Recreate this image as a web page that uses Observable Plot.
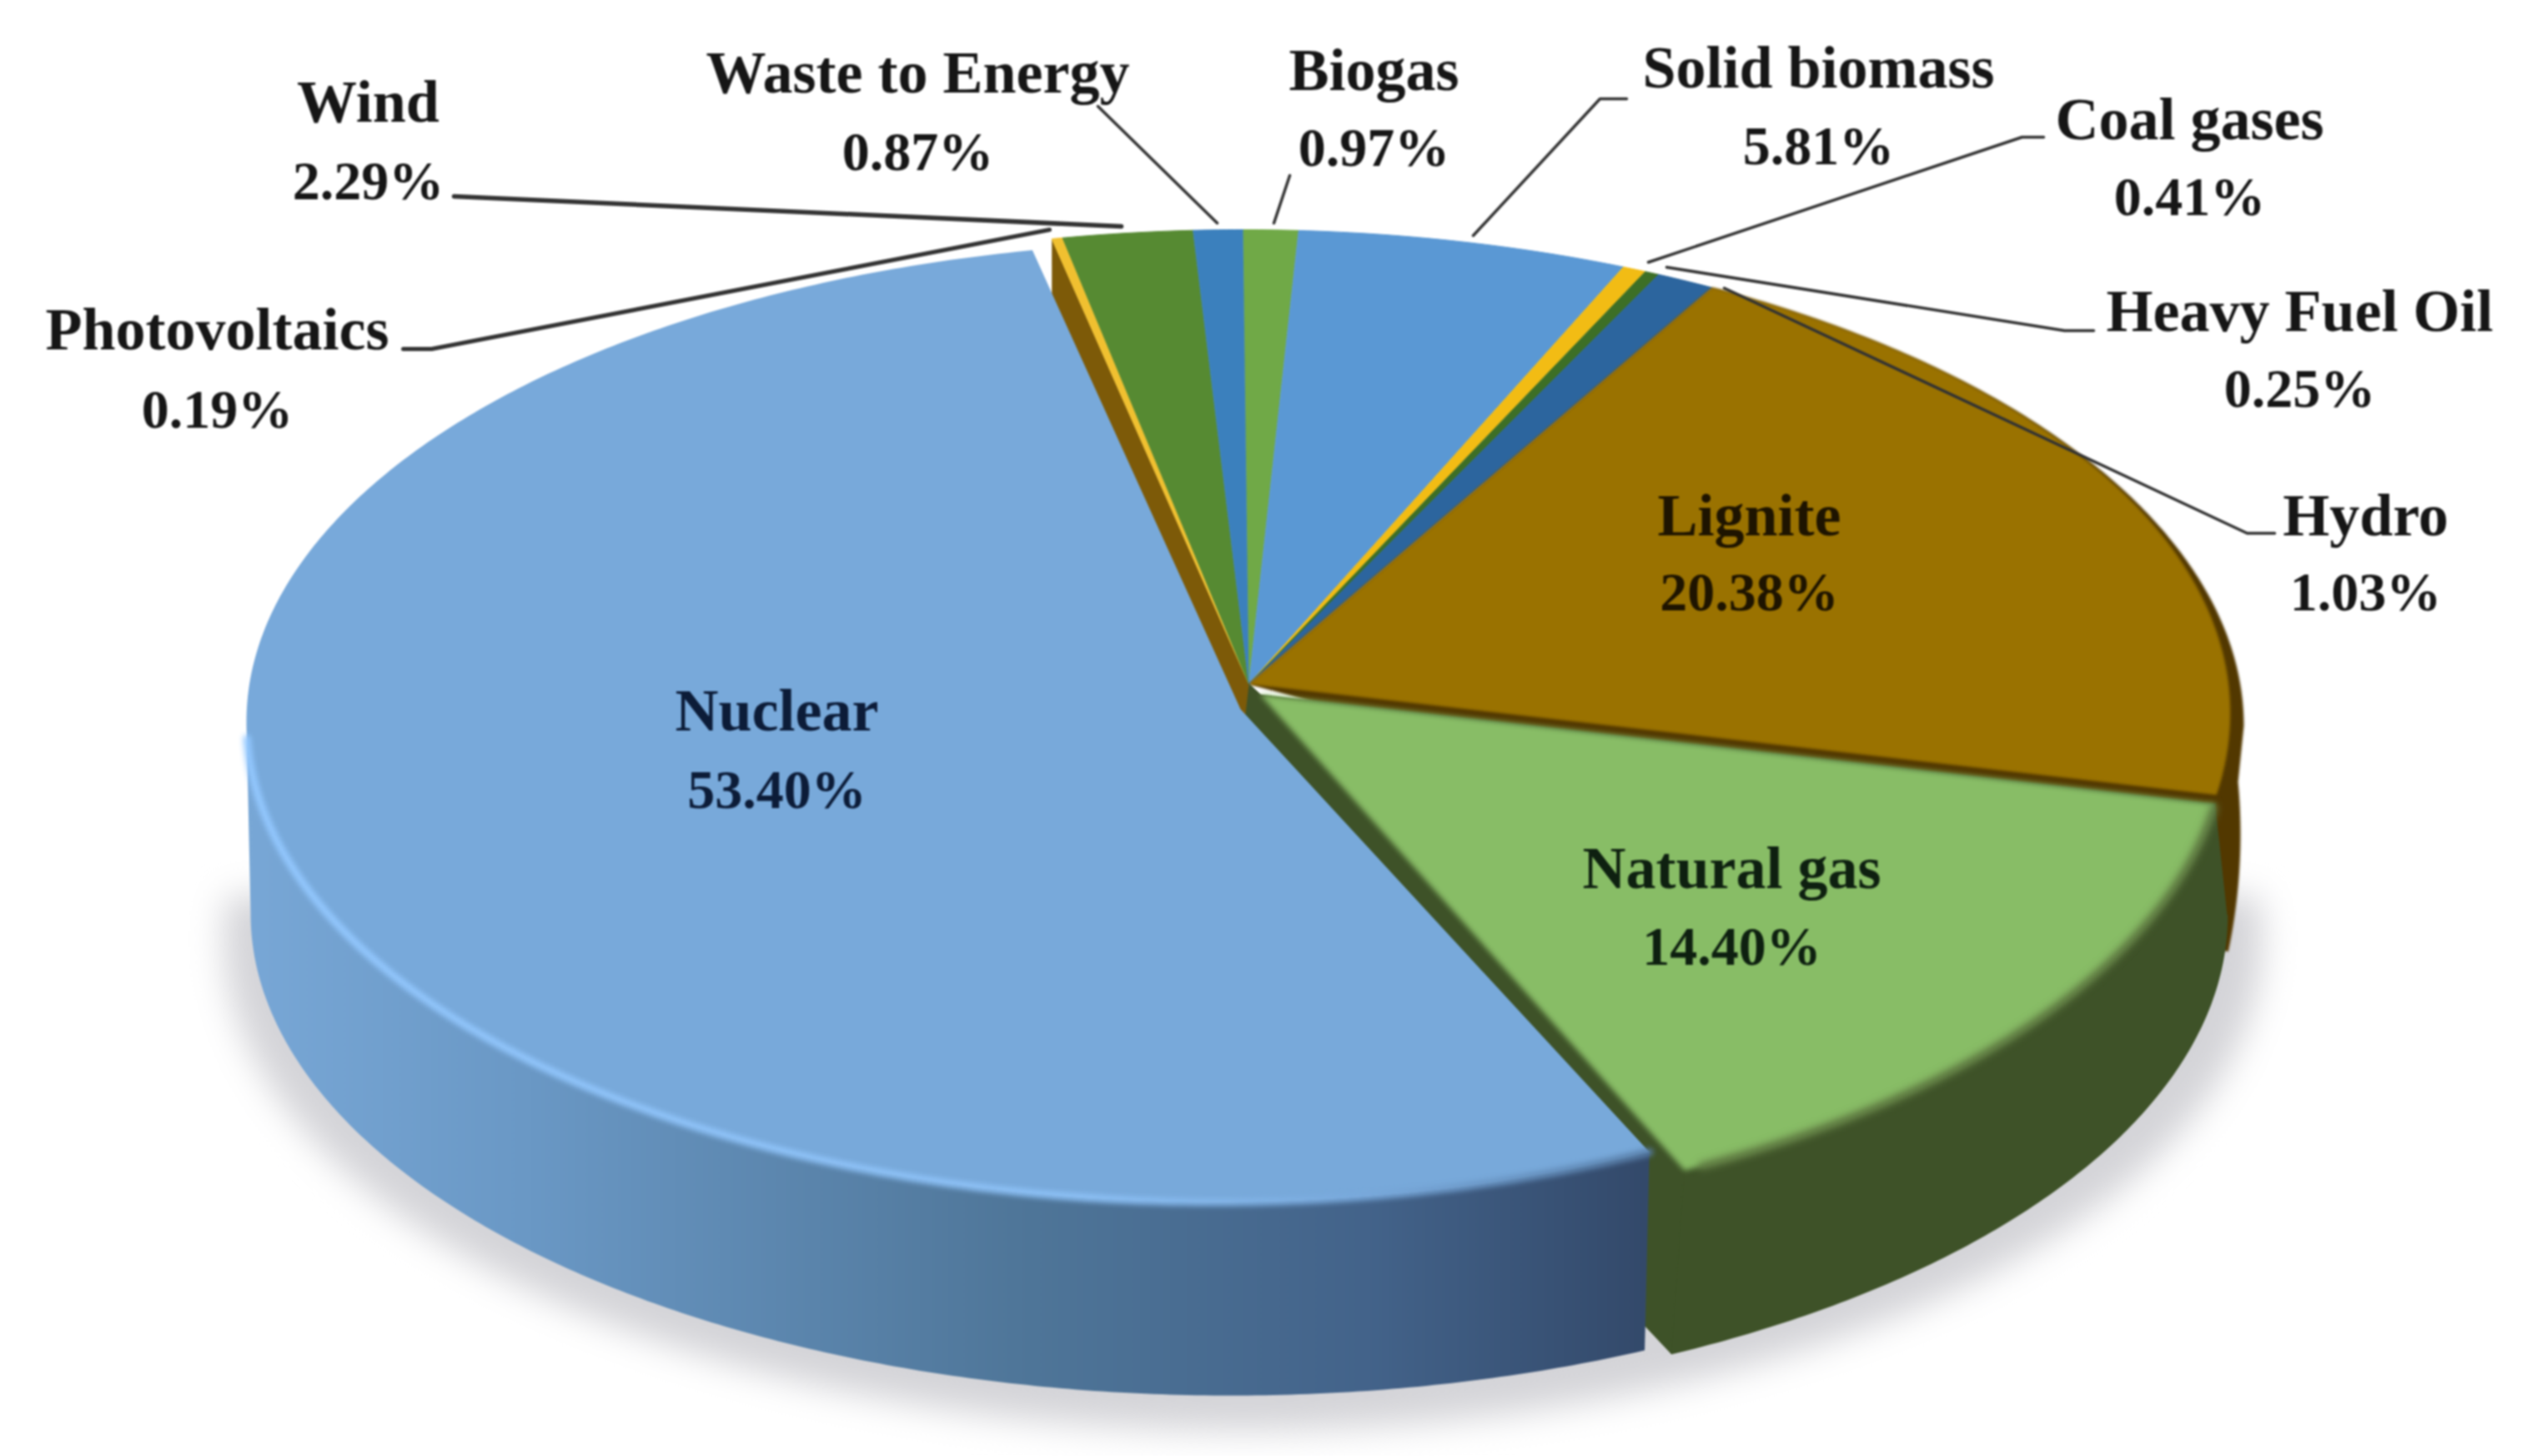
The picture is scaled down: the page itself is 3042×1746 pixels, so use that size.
<!DOCTYPE html>
<html>
<head>
<meta charset="utf-8">
<style>html,body{margin:0;padding:0;background:#fff}svg{display:block;filter:blur(0.9px)}</style>
<script src="https://cdn.jsdelivr.net/npm/d3@7"></script>
<script src="https://cdn.jsdelivr.net/npm/@observablehq/plot@0.6"></script>
</head>
<body>
<div id="chart"></div>
<script>
// ---- data, clockwise from the top of the pie ----
const sources = ["Biogas","Solid biomass","Coal gases","Heavy Fuel Oil","Hydro","Lignite","Natural gas","Nuclear","Photovoltaics","Wind","Waste to Energy"];
const shares = [0.97,5.81,0.41,0.25,1.03,20.38,14.40,53.40,0.19,2.29,0.87];
const topColors = ["#70a947","#5a98d4","#f2bc14","#3d6f26","#2c659e","#9a7200","#88bd66","#78a9da","#f0c030","#568a32","#3b80bd"];

// ---- label layout: name baseline x,y and value baseline y ----
const labelX = [1647,2180,2625,2757,2836,2097,2076,931,260,441,1100];
const nameY = [107,104,166,396,641,641,1064,875,418,145,110];
const valueY = [198,196,257,487,731,731,1156,968,512,238,203];
const inkColors = ["#161616","#161616","#161616","#161616","#161616","#1e1400","#0e2010","#0c1c38","#161616","#161616","#161616"];

// ---- leader lines, one vertex list per source with a callout ----
const leaderNames = ["Biogas","Solid biomass","Coal gases","Heavy Fuel Oil","Hydro","Photovoltaics","Wind","Waste to Energy"];
const leaderX = [[1546,1527],[1950,1918,1766],[2450,2424,1976],[2510,2475,1998],[2727,2694,2067],[483,517,1258],[544,1344],[1316,1459]];
const leaderY = [[210,267],[118,118,282],[164,164,314],[396,396,320],[639,639,345],[418,418,275],[235,271],[127,267]];
const leaderWidths = [3.5,3.5,3.5,3.5,3.5,5,5.5,3.5];

// ---- pie projection (ellipses in chart units) ----
const W = 3042, H = 1746;
const rad = Math.PI/180;
const warp = th => th - 5*Math.sin(th*rad);
let c = 0;
const slices = sources.map((name,i)=>{const a=c; c+=shares[i]; return {name,i,t0:warp(a*3.6),t1:warp(c*3.6)};});
const sl = n => slices.find(s=>s.name===n);
const range = (a,b,step=1)=>{const n=Math.max(2,Math.ceil(Math.abs(b-a)/step)+1);return d3.range(n).map(k=>a+(b-a)*k/(n-1));};
const arc = (e,a,b)=>range(a,b,0.5).map(t=>({x:e.cx+e.rx*Math.sin(t*rad),y:e.cy-e.ry*Math.cos(t*rad)}));

const groupTop = {cx:1490,cy:870,rx:1200,ry:595};
const groupApex = {x:1497,y:820};
const gasTop = {cx:1500,cy:870,rx:1170,ry:595};
const gasBottom = {cx:1484,cy:1097,rx:1186,ry:585};
const gasApex = {x:1510,y:832};
const nucTop = {cx:1460,cy:865,rx:1165,ry:576};
const nucBottom = {cx:1475,cy:1095,rx:1175,ry:578};
const nucApex = {x:1487,y:850};
const ligWall = {cx:1490,cy:1000,rx:1196,ry:900};
const wallH = 225;

const shape = (pts,opts={},blur)=>Plot.line(pts,{x:"x",y:"y",stroke:"none",curve:"linear",...opts,
  render(index,scales,values,dim,ctx,next){const g=next(index,scales,values,dim,ctx); if(blur) g.style.filter=`blur(${blur}px)`; return g;}});

const gas = sl("Natural gas"), nuc = sl("Nuclear"), lig = sl("Lignite"), pv = sl("Photovoltaics");

const defsMark = ()=>{
  const g=document.createElementNS("http://www.w3.org/2000/svg","defs");
  g.innerHTML=`
  <linearGradient id="nucWall" gradientUnits="userSpaceOnUse" x1="295" x2="1975" y1="0" y2="0">
    <stop offset="0" stop-color="#78a7d6"/><stop offset="0.2" stop-color="#6a98c5"/>
    <stop offset="0.55" stop-color="#4f7699"/><stop offset="0.8" stop-color="#43638a"/>
    <stop offset="1" stop-color="#33496a"/></linearGradient>
  <linearGradient id="nucRim" gradientUnits="userSpaceOnUse" x1="295" x2="1975" y1="0" y2="0">
    <stop offset="0" stop-color="#93c8ff"/><stop offset="0.6" stop-color="#8cc0f5"/>
    <stop offset="0.8" stop-color="#78a8da"/><stop offset="1" stop-color="#587ea8"/></linearGradient>`;
  return g;
};

const gasFace = [gasApex,...arc(gasTop,lig.t1,gas.t1)];
const gasOuter = arc(gasTop,99,gas.t1).concat(arc(gasBottom,154,90));
const gasRadial = [groupApex,gasApex,...arc(gasTop,gas.t1,gas.t1),...arc(gasBottom,154,154),{x:gasApex.x-40,y:gasApex.y+wallH}];
const ligBase = [groupApex,...arc(groupTop,lig.t0,90),...arc(ligWall,86,99)];
const ligRx = t=>1200-22*Math.pow(Math.max(0,t-30)/69,2);
const ligTop = [groupApex,...range(lig.t0,lig.t1-1,0.5).map(t=>({x:groupTop.cx+ligRx(t)*Math.sin(t*rad),y:groupTop.cy-groupTop.ry*Math.cos(t*rad)}))];
const pvWall = [groupApex,...arc(groupTop,pv.t0,pv.t0),{x:groupTop.cx+groupTop.rx*Math.sin(pv.t0*rad),y:groupTop.cy-groupTop.ry*Math.cos(pv.t0*rad)+wallH},{x:groupApex.x,y:groupApex.y+wallH}];
const nucWall = arc(nucTop,nuc.t0,270).concat(arc(nucBottom,270,155));
const nucFace = [nucApex,...arc(nucTop,nuc.t0,nuc.t1)];
const shadow = arc({cx:1490,cy:1125,rx:1222,ry:590},85,275);

const backWedges = slices.filter(s=>!["Natural gas","Nuclear","Lignite"].includes(s.name))
  .map(s=>shape([groupApex,...arc(groupTop,s.t0,s.t1)],{fill:topColors[s.i],stroke:topColors[s.i],strokeWidth:1}));

const nameRows = sources.map((n,i)=>({t:n,x:labelX[i],y:nameY[i],ink:inkColors[i]}));
const valueRows = sources.map((n,i)=>({t:shares[i].toFixed(2)+"%",x:labelX[i],y:valueY[i],ink:inkColors[i]}));
const leaderMarks = leaderNames.map((n,i)=>Plot.line(leaderX[i].map((x,k)=>({x,y:leaderY[i][k]})),{x:"x",y:"y",stroke:"#333",strokeWidth:leaderWidths[i],curve:"linear"}));
const font = {x:"x",y:"y",text:"t",fill:"ink",textAnchor:"middle",lineAnchor:"bottom",fontFamily:"Liberation Serif",fontWeight:"bold"};

const chart = Plot.plot({
  width:W,height:H,margin:0,
  x:{domain:[0,W],range:[0,W],axis:null},
  y:{domain:[0,H],range:[0,H],axis:null},
  style:{background:"#fff"},
  marks:[
    defsMark,
    shape(shadow,{fill:"#d4d4d8"},20),
    shape(pvWall,{fill:"#7d5a08"}),
    ...backWedges,
    shape(ligBase,{fill:"#523800"},1),
    shape(ligTop,{fill:topColors[lig.i]},1.5),
    shape(gasRadial,{fill:"#3e5228",stroke:"#3e5228",strokeWidth:1.5}),
    shape(gasOuter,{fill:"#3e5228",stroke:"#3e5228",strokeWidth:1.5}),
    shape(gasFace,{fill:"#3e5228"}),
    shape(gasFace,{fill:topColors[gas.i]},3),
    shape(arc(gasTop,99.5,152.5),{stroke:"#637f45",strokeWidth:9},5),
    shape(nucWall,{fill:"url(#nucWall)"}),
    shape(nucFace,{fill:topColors[nuc.i]}),
    shape(arc(nucTop,nuc.t0,268),{stroke:"url(#nucRim)",strokeWidth:9},3),
    ...leaderMarks,
    Plot.text(nameRows,{...font,fontSize:72}),
    Plot.text(valueRows,{...font,fontSize:66})
  ]
});
document.getElementById("chart").appendChild(chart);
</script>
</body>
</html>
